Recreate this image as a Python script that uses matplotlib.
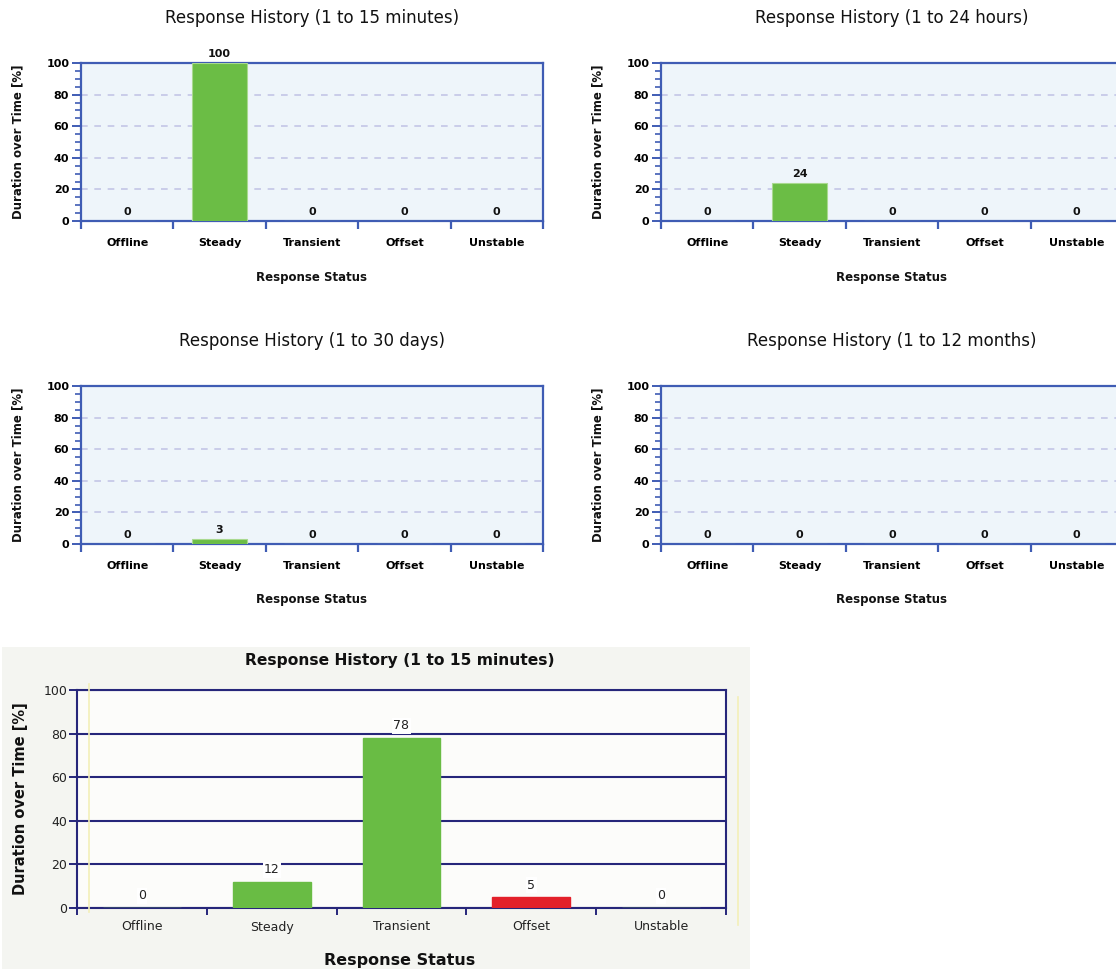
import matplotlib
matplotlib.use("Agg")
import matplotlib.pyplot as plt
from matplotlib.ticker import MultipleLocator, FixedLocator, NullFormatter

# ---- data ---------------------------------------------------------------
categories = ["Offline", "Steady", "Transient", "Offset", "Unstable"]

minutes_15 = [0, 100, 0, 0, 0]
hours_24 = [0, 24, 0, 0, 0]
days_30 = [0, 3, 0, 0, 0]
months_12 = [0, 0, 0, 0, 0]

detail_15min = [0, 12, 78, 5, 0]
detail_colors = ["#69bc44", "#69bc44", "#69bc44", "#e3202a", "#69bc44"]

small_titles = [
    "Response History (1 to 15 minutes)",
    "Response History (1 to 24 hours)",
    "Response History (1 to 30 days)",
    "Response History (1 to 12 months)",
]
detail_title = "Response History (1 to 15 minutes)"
y_label = "Duration over Time [%]"
x_label = "Response Status"

# ---- figure -------------------------------------------------------------
W, H = 1116, 969
fig = plt.figure(figsize=(W / 100, H / 100), dpi=100)
fig.patch.set_facecolor("white")


def rect(left, top, right, bottom):
    return [left / W, 1 - bottom / H, (right - left) / W, (bottom - top) / H]


def px(x, y):
    return x / W, 1 - y / H


BLUE = "#3f5cb4"
GRID = "#c3c6e6"
PANEL_BG = "#eef5fa"
GREEN = "#6bbd45"


def small_chart(values, left, top):
    right, bottom = left + 462, top + 158
    ax = fig.add_axes(rect(left, top, right, bottom))
    ax.set_facecolor(PANEL_BG)
    x = list(range(len(categories)))
    ax.bar(x, values, width=0.6, color=GREEN, edgecolor="#a9d98f",
           linewidth=0.8, zorder=3)
    for xi, v in zip(x, values):
        ax.annotate(f"{v}", (xi, v), xytext=(0, 3), textcoords="offset points",
                    ha="center", va="bottom", fontsize=8, fontweight="bold",
                    color="#111111", zorder=4)
    ax.set_xlim(-0.5, len(categories) - 0.5)
    ax.set_ylim(0, 100)
    ax.yaxis.set_major_locator(MultipleLocator(20))
    ax.yaxis.set_minor_locator(MultipleLocator(5))
    ax.tick_params(axis="y", which="major", length=6.5, width=1.4, color=BLUE,
                   labelsize=8, pad=2)
    ax.tick_params(axis="y", which="minor", length=4.3, width=1.2, color=BLUE)
    for lab in ax.get_yticklabels():
        lab.set_fontweight("bold")
    # category boundaries carry the ticks, names sit between them
    ax.xaxis.set_major_locator(FixedLocator([i - 0.5 for i in range(len(categories) + 1)]))
    ax.xaxis.set_major_formatter(NullFormatter())
    ax.xaxis.set_minor_locator(FixedLocator(x))
    ax.set_xticklabels(categories, minor=True)
    ax.tick_params(axis="x", which="major", length=6, width=1.6, color=BLUE)
    ax.tick_params(axis="x", which="minor", length=0, labelsize=8, pad=12)
    for lab in ax.get_xticklabels(minor=True):
        lab.set_fontweight("bold")
    for yv in (20, 40, 60, 80):
        ax.axhline(yv, color=GRID, lw=1.2, ls=(0, (4, 4)), zorder=1)
    for s in ax.spines.values():
        s.set_color(BLUE)
        s.set_linewidth(1.6)
    return ax, (left + right) / 2


positions = [(81, 63), (661, 63), (81, 386), (661, 386)]
series = [minutes_15, hours_24, days_30, months_12]
for vals, title, (l, t) in zip(series, small_titles, positions):
    ax, cx = small_chart(vals, l, t)
    fig.text(*px(cx, t - 45), title, ha="center", va="center", fontsize=12,
             color="#111111")
    fig.text(*px(cx, t + 214), x_label, ha="center", va="center",
             fontsize=8.5, fontweight="bold", color="#111111")
    fig.text(*px(l - 63, t + 79), y_label, ha="center", va="center",
             rotation=90, fontsize=8.5, fontweight="bold", color="#111111")

# ---- detailed chart -----------------------------------------------------
NAVY = "#26267a"
fig.add_artist(plt.Rectangle(px(2, 969), 748 / W, (969 - 647) / H,
                             transform=fig.transFigure,
                             facecolor="#f4f5f1", edgecolor="none",
                             zorder=-5))
L, T, R, B = 77, 690, 726, 908
ax = fig.add_axes(rect(L, T, R, B))
ax.set_zorder(2)
ax.set_facecolor("#fcfcfa")
x = list(range(len(categories)))
ax.bar(x, detail_15min, width=0.6, color=detail_colors,
       edgecolor=detail_colors, linewidth=1.0, zorder=3)
for xi, v in zip(x, detail_15min):
    ax.annotate(f"{v}", (xi, v), xytext=(0, 4), textcoords="offset points",
                ha="center", va="bottom", fontsize=9, color="#222222",
                zorder=5,
                bbox=dict(boxstyle="square,pad=0.1", fc="white", ec="none"))
ax.set_xlim(-0.5, len(categories) - 0.5)
ax.set_ylim(0, 100)
ax.yaxis.set_major_locator(MultipleLocator(20))
ax.tick_params(axis="y", length=6, width=1.4, color=NAVY, labelsize=9,
               labelcolor="#222222", pad=1)
ax.xaxis.set_major_locator(FixedLocator([i - 0.5 for i in range(len(categories) + 1)]))
ax.xaxis.set_major_formatter(NullFormatter())
ax.xaxis.set_minor_locator(FixedLocator(x))
ax.set_xticklabels(categories, minor=True)
ax.tick_params(axis="x", which="major", length=5, width=1.4, color=NAVY)
ax.tick_params(axis="x", which="minor", length=0, labelsize=9,
               labelcolor="#222222", pad=9)
ax.grid(axis="y", color=NAVY, lw=1.5, zorder=1)
ax.set_axisbelow(True)
for s in ax.spines.values():
    s.set_color(NAVY)
    s.set_linewidth(1.5)

# faint shadow lines of the chart frame
fig.add_artist(plt.Line2D([89 / W, 89 / W], [1 - 684 / H, 1 - 912 / H],
                          color="#f3efb8", lw=1.2, zorder=3))
fig.add_artist(plt.Line2D([738 / W, 738 / W], [1 - 697 / H, 1 - 925 / H],
                          color="#f3efb8", lw=1.2, zorder=3))

fig.text(*px(400, 661), detail_title, ha="center", va="center",
         fontsize=11.2, fontweight="bold", color="#111111")
fig.text(*px(400, 960), x_label, ha="center", va="center", fontsize=11.5,
         fontweight="bold", color="#111111")
fig.text(*px(21, 799), y_label, ha="center", va="center", rotation=90,
         fontsize=10.5, fontweight="bold", color="#111111")

fig.savefig("out.png", dpi=100)
